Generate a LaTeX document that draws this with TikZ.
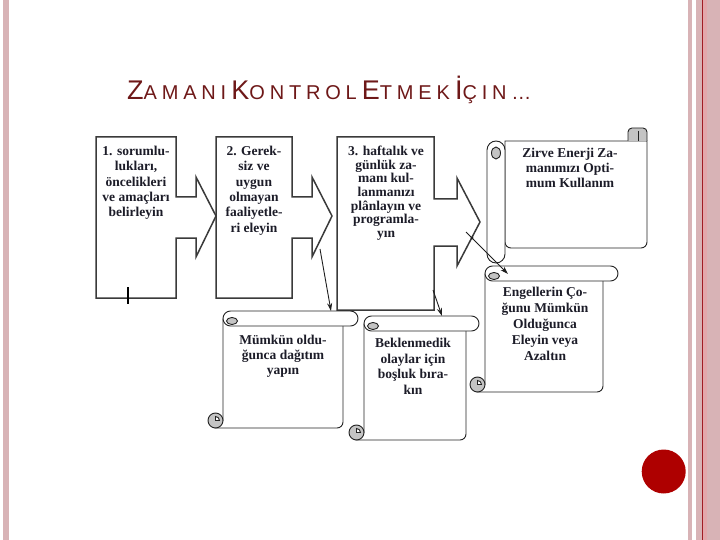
\documentclass[tikz,border=0pt]{standalone}
\usepackage{fontspec}
\setmainfont{Liberation Serif}
\newfontfamily\titlefont[LetterSpace=24]{Liberation Sans}
\usepackage{tikz}
\usetikzlibrary{arrows.meta}
\definecolor{titleColor}{RGB}{110, 24, 24}
\definecolor{textColor}{RGB}{28, 28, 40}
\definecolor{boxLine}{RGB}{58, 58, 58}
\definecolor{scrollLine}{RGB}{34, 34, 34}
\definecolor{curlGrey}{RGB}{196, 196, 196}
\definecolor{edgeColor}{RGB}{30, 30, 30}
\definecolor{stripeColor}{RGB}{216, 179, 182}
\definecolor{stripeLight}{RGB}{227, 167, 171}
\definecolor{stripeDark}{RGB}{160, 28, 36}
\definecolor{dotRed}{RGB}{174, 0, 0}
\newcommand{\titlebig}[1]{{\fontsize{27}{28}\selectfont #1}}
\newcommand{\titlesmall}[1]{{\fontsize{20}{28}\selectfont #1}}
\tikzset{
    block_arrow/.style={
        draw=boxLine,
        line width=1.5pt,
        fill=white,
        line join=miter
    },
    scroll_line/.style={
        draw=scrollLine,
        line width=0.9pt,
        fill=white
    },
    curl_part/.style={
        scroll_line,
        fill=curlGrey
    },
    box_text/.style={
        anchor=north,
        inner sep=0pt,
        align=center,
        text=textColor,
        font=\bfseries\fontsize{13.5}{15.3}\selectfont
    },
    flow_edge/.style={
        ->,
        >={Stealth[length=8pt, width=5pt]},
        line width=0.9pt,
        draw=edgeColor
    }
}
% vertical scroll: left, top, body right, roll right, bottom
\newcommand{\vertscroll}[5]{%
    \draw[scroll_line] (#1,#2+8) -- (#1,#5-7.5) -- (#1-7.5,#5)
        [rounded corners=6] -- (#3,#5) -- (#3,#2+8) [sharp corners] -- cycle;
    \draw[scroll_line, rounded corners=7.5] (#1,#2) rectangle (#4,#2+15);
    \draw[curl_part] (#1+9,#2+10) ellipse (5.5 and 3.5);
    \draw[curl_part] (#1-7.5,#5-7.5) circle (7.5);
    \filldraw[scroll_line] (#1-7.5,#5-7.5) -- ++(0,-4)
        arc[start angle=270, end angle=360, radius=4] -- cycle;
}

\begin{document}
\begin{tikzpicture}[x=1pt, y=-1pt]
    \useasboundingbox (0,0) rectangle (720,540);

    % slide frame
    \fill[stripeColor] (3,0) rectangle (9,540);
    \fill[stripeColor] (688.3,0) rectangle (691.7,540);
    \fill[stripeColor] (695.7,0) rectangle (720,540);
    \fill[stripeLight] (703.3,0) rectangle (707.3,540);
    \fill[stripeDark] (701.7,0) rectangle (703.3,540);
    \fill[dotRed] (663.7,471.5) circle (22);

    \node[anchor=base west, inner sep=0pt, text=titleColor, font=\titlefont] (title) at (127,100)
        {\titlebig{Z}\titlesmall{AMANI} \titlebig{K}\titlesmall{ONTROL} \titlebig{E}\titlesmall{TMEK} \titlebig{İ}\titlesmall{ÇIN…}};

    % block arrows
    \draw[block_arrow] (96,137) -- (176,137) -- (176,197) -- (196,197) -- (196,177) -- (216,216)
        -- (196,257) -- (196,238) -- (176,238) -- (176,298) -- (96,298) -- cycle;
    \draw[block_arrow] (216,137) -- (292,137) -- (292,197) -- (312,197) -- (312,177) -- (332,216)
        -- (312,257) -- (312,238) -- (292,238) -- (292,298) -- (216,298) -- cycle;
    \draw[block_arrow] (337,137) -- (434,137) -- (434,199) -- (457,199) -- (457,178) -- (480,222)
        -- (457,266) -- (457,246) -- (434,246) -- (434,310) -- (337,310) -- cycle;
    \draw[line width=1.2pt] (128,287) -- (128,304);

    \node[box_text] (t_resp) at (136,146) {1. sorumlu-\\lukları,\\öncelikleri\\ve amaçları\\belirleyin};
    \node[box_text] (t_elim) at (254,146) {2. Gerek-\\siz ve\\uygun\\olmayan\\faaliyetle-\\ri eleyin};
    \node[box_text, font=\bfseries\fontsize{13.5}{13.6}\selectfont] (t_plan) at (386,146)
        {3. haftalık ve\\günlük za-\\manı kul-\\lanmanızı\\plânlayın ve\\programla-\\yın};

    % horizontal scroll
    \draw[scroll_line] (505,141) -- (647,141) [rounded corners=6] -- (647,248) -- (505,248) [sharp corners] -- cycle;
    \draw[curl_part, rounded corners=4] (628,141) -- (628,128) -- (647,128) -- (647,141);
    \draw[scroll_line] (638,131) -- (638,141);
    \draw[scroll_line, rounded corners=9] (487,141) rectangle (505,263);
    \draw[curl_part] (496,153) ellipse (4.5 and 6);
    \node[box_text, font=\bfseries\fontsize{13.5}{15}\selectfont] (t_peak) at (570,148)
        {Zirve Enerji Za-\\manımızı Opti-\\mum Kullanım};

    % vertical scrolls
    \vertscroll{485}{266}{603}{618}{392}
    \vertscroll{223}{311}{343}{358}{428}
    \vertscroll{364}{316}{466}{479}{440}
    \node[box_text, font=\bfseries\fontsize{13.5}{16}\selectfont] (t_obst) at (545,287)
        {Engellerin Ço-\\ğunu Mümkün\\Olduğunca\\Eleyin veya\\Azaltın};
    \node[box_text, font=\bfseries\fontsize{13.5}{15}\selectfont] (t_spread) at (283,335)
        {Mümkün oldu-\\ğunca dağıtım\\yapın};
    \node[box_text, font=\bfseries\fontsize{13.5}{15.5}\selectfont] (t_spare) at (413,338)
        {Beklenmedik\\olaylar için\\boşluk bıra-\\kın};

    % connectors
    \coordinate (b2_head) at (320,249);
    \coordinate (b3_side) at (433,290);
    \coordinate (b3_head) at (466,232);
    \coordinate (b3_cross) at (472,238);
    \coordinate (s_spread_top) at (331,311);
    \coordinate (s_spare_top) at (442,316);
    \coordinate (s_obst_top) at (508,274);
    \draw[flow_edge] (b2_head) -- (s_spread_top);
    \draw[flow_edge] (b3_side) -- (s_spare_top);
    \draw[flow_edge] (b3_head) -- (s_obst_top);
    \fill[edgeColor] (b3_cross) circle (1.6);
\end{tikzpicture}
\end{document}
